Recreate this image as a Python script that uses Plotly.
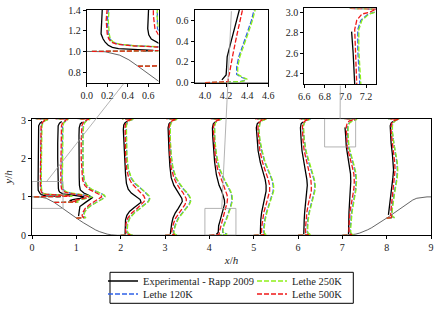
import plotly.graph_objects as go

W, H = 441, 310
FONT = "Liberation Serif, serif"

STATIONS = [0.05, 0.5, 1, 2, 3, 4, 5, 6, 7, 8]

# hill geometry (x/h, y/h)
HILL_X = [0, 0.09, 0.179, 0.321, 0.411, 0.5, 0.607, 0.714, 0.804, 0.893, 0.982, 1.071, 1.161, 1.25, 1.339,
          1.429, 1.518, 1.607, 1.696, 1.786, 1.929, 7.071, 7.214, 7.304, 7.393, 7.482, 7.571, 7.661, 7.75,
          7.839, 7.929, 8.018, 8.107, 8.196, 8.286, 8.393, 8.5, 8.589, 8.679, 8.821, 8.91, 9.0]
HILL_Y = [1.0, 1.0, 0.997, 0.964, 0.919, 0.857, 0.770, 0.679, 0.604, 0.532, 0.462, 0.393, 0.325, 0.259, 0.197,
          0.143, 0.097, 0.059, 0.031, 0.012, 0.0, 0.0, 0.012, 0.031, 0.059, 0.097, 0.143, 0.197, 0.259,
          0.325, 0.393, 0.462, 0.532, 0.604, 0.679, 0.770, 0.857, 0.919, 0.964, 0.997, 1.0, 1.0]

# y levels of the simulation profiles
Y_S005 = [1.0, 1.003, 1.008, 1.015, 1.025, 1.035, 1.045, 1.055, 1.07, 1.09, 1.12, 1.17, 1.3, 1.6, 2.0, 2.4, 2.7, 2.85, 2.93, 2.98, 3.005, 3.02, 3.03, 3.035]
Y_S05 = [0.857, 0.86, 0.865, 0.875, 0.89, 0.91, 0.94, 0.97, 1.0, 1.03, 1.06, 1.09, 1.12, 1.16, 1.22, 1.35, 1.6, 2.0, 2.4, 2.7, 2.85, 2.93, 2.98, 3.005, 3.02, 3.03, 3.035]
Y_S1 = [0.448, 0.452, 0.46, 0.48, 0.52, 0.6, 0.7, 0.8, 0.88, 0.95, 1.0, 1.04, 1.08, 1.13, 1.2, 1.3, 1.45, 1.7, 2.0, 2.4, 2.7, 2.85, 2.93, 2.98, 3.005, 3.02, 3.03, 3.035]
Y_S23 = [0.0, 0.004, 0.012, 0.03, 0.07, 0.15, 0.3, 0.45, 0.58, 0.7, 0.8, 0.88, 0.95, 1.03, 1.12, 1.22, 1.35, 1.5, 1.75, 2.1, 2.5, 2.75, 2.85, 2.93, 2.98, 3.005, 3.02, 3.03, 3.035]
Y_S4 = [0.0, 0.004, 0.01, 0.02, 0.035, 0.05, 0.08, 0.15, 0.25, 0.45, 0.6, 0.72, 0.85, 0.95, 1.05, 1.15, 1.3, 1.5, 1.75, 2.1, 2.5, 2.75, 2.85, 2.93, 2.98, 3.005, 3.02, 3.03, 3.035]
Y_S56 = [0.0, 0.004, 0.012, 0.03, 0.07, 0.2, 0.4, 0.6, 0.8, 1.0, 1.15, 1.3, 1.45, 1.65, 1.9, 2.2, 2.5, 2.75, 2.85, 2.93, 2.98, 3.005, 3.02, 3.03, 3.035]
Y_S7 = [0.0, 0.004, 0.012, 0.03, 0.07, 0.2, 0.4, 0.6, 0.8, 1.0, 1.2, 1.4, 1.6, 1.8, 2.0, 2.3, 2.63, 2.83, 2.92, 2.98, 3.0, 3.02, 3.03, 3.035]
Y_S8 = [0.448, 0.452, 0.46, 0.48, 0.55, 0.7, 0.9, 1.1, 1.3, 1.5, 1.7, 1.9, 2.1, 2.4, 2.7, 2.85, 2.93, 2.98, 3.005, 3.02, 3.03, 3.035]
SIM_Y = [Y_S005, Y_S05, Y_S1, Y_S23, Y_S23, Y_S4, Y_S56, Y_S56, Y_S7, Y_S8]

# Lethe 120K profile values (offset from station)
L120 = [
    [0.0, 0.58, 0.76, 0.84, 0.82, 0.78, 0.64, 0.41, 0.26, 0.2, 0.175, 0.16, 0.152, 0.15, 0.15, 0.15, 0.155, 0.165, 0.19, 0.23, 0.28, 0.31, 0.29, 0.03],
    [0.0, 0.38, 0.53, 0.5, 0.45, 0.48, 0.64, 0.78, 0.84, 0.76, 0.56, 0.39, 0.29, 0.23, 0.19, 0.177, 0.177, 0.177, 0.177, 0.182, 0.19, 0.21, 0.25, 0.29, 0.31, 0.29, 0.03],
    [0.0, 0.19, 0.21, 0.17, 0.16, 0.18, 0.24, 0.36, 0.49, 0.59, 0.64, 0.63, 0.57, 0.46, 0.33, 0.23, 0.17, 0.148, 0.143, 0.143, 0.148, 0.158, 0.18, 0.22, 0.27, 0.3, 0.28, 0.03],
    [0.0, 0.24, 0.26, 0.19, 0.15, 0.14, 0.15, 0.2, 0.3, 0.43, 0.55, 0.62, 0.65, 0.63, 0.55, 0.44, 0.32, 0.23, 0.165, 0.135, 0.125, 0.12, 0.125, 0.145, 0.185, 0.235, 0.275, 0.265, 0.03],
    [0.0, 0.27, 0.27, 0.21, 0.19, 0.2, 0.24, 0.3, 0.38, 0.47, 0.54, 0.57, 0.57, 0.54, 0.48, 0.4, 0.32, 0.24, 0.175, 0.135, 0.115, 0.11, 0.115, 0.135, 0.175, 0.225, 0.265, 0.255, 0.03],
    [0.0, 0.29, 0.33, 0.37, 0.39, 0.35, 0.3, 0.3, 0.32, 0.39, 0.44, 0.47, 0.5, 0.51, 0.5, 0.47, 0.4, 0.31, 0.22, 0.155, 0.12, 0.11, 0.115, 0.135, 0.175, 0.225, 0.265, 0.255, 0.03],
    [0.0, 0.27, 0.29, 0.25, 0.23, 0.23, 0.25, 0.29, 0.35, 0.41, 0.44, 0.44, 0.41, 0.34, 0.25, 0.18, 0.135, 0.115, 0.12, 0.14, 0.175, 0.225, 0.265, 0.255, 0.03],
    [0.0, 0.27, 0.29, 0.25, 0.21, 0.21, 0.22, 0.25, 0.29, 0.34, 0.37, 0.38, 0.36, 0.31, 0.24, 0.175, 0.135, 0.115, 0.12, 0.14, 0.175, 0.225, 0.265, 0.255, 0.03],
    [0.0, 0.24, 0.26, 0.21, 0.18, 0.18, 0.19, 0.21, 0.24, 0.27, 0.3, 0.31, 0.3, 0.26, 0.21, 0.14, 0.12, 0.12, 0.15, 0.22, 0.29, 0.31, 0.3, 0.04],
    [0.0, 0.15, 0.17, 0.13, 0.11, 0.12, 0.14, 0.17, 0.2, 0.23, 0.24, 0.23, 0.2, 0.155, 0.125, 0.125, 0.145, 0.185, 0.235, 0.275, 0.265, 0.03],
]

# Lethe 250K
L250 = [
    [0.0, 0.6, 0.78, 0.86, 0.84, 0.8, 0.66, 0.42, 0.27, 0.21, 0.18, 0.17, 0.16, 0.16, 0.16, 0.16, 0.165, 0.175, 0.2, 0.24, 0.29, 0.32, 0.3, 0.03],
    [0.0, 0.4, 0.55, 0.52, 0.47, 0.5, 0.66, 0.8, 0.86, 0.78, 0.58, 0.4, 0.3, 0.24, 0.2, 0.185, 0.185, 0.185, 0.185, 0.19, 0.2, 0.22, 0.26, 0.3, 0.32, 0.3, 0.03],
    [0.0, 0.2, 0.22, 0.18, 0.17, 0.19, 0.25, 0.37, 0.5, 0.6, 0.65, 0.64, 0.58, 0.47, 0.34, 0.24, 0.18, 0.155, 0.15, 0.15, 0.155, 0.165, 0.19, 0.23, 0.28, 0.31, 0.29, 0.03],
    [0.0, 0.25, 0.27, 0.2, 0.16, 0.15, 0.16, 0.21, 0.31, 0.44, 0.56, 0.63, 0.66, 0.64, 0.56, 0.45, 0.33, 0.24, 0.17, 0.14, 0.13, 0.125, 0.13, 0.15, 0.19, 0.24, 0.28, 0.27, 0.03],
    [0.0, 0.28, 0.28, 0.22, 0.2, 0.21, 0.25, 0.31, 0.39, 0.48, 0.55, 0.58, 0.58, 0.55, 0.49, 0.41, 0.33, 0.25, 0.18, 0.14, 0.12, 0.115, 0.12, 0.14, 0.18, 0.23, 0.27, 0.26, 0.03],
    [0.0, 0.3, 0.34, 0.38, 0.4, 0.36, 0.31, 0.31, 0.33, 0.4, 0.45, 0.48, 0.51, 0.52, 0.51, 0.48, 0.41, 0.32, 0.23, 0.16, 0.125, 0.115, 0.12, 0.14, 0.18, 0.23, 0.27, 0.26, 0.03],
    [0.0, 0.28, 0.3, 0.26, 0.24, 0.24, 0.26, 0.3, 0.36, 0.42, 0.45, 0.45, 0.42, 0.35, 0.26, 0.19, 0.14, 0.12, 0.125, 0.145, 0.18, 0.23, 0.27, 0.26, 0.03],
    [0.0, 0.28, 0.3, 0.26, 0.22, 0.22, 0.23, 0.26, 0.3, 0.35, 0.38, 0.39, 0.37, 0.32, 0.25, 0.18, 0.14, 0.12, 0.125, 0.145, 0.18, 0.23, 0.27, 0.26, 0.03],
    [0.0, 0.25, 0.27, 0.22, 0.19, 0.19, 0.2, 0.22, 0.25, 0.28, 0.31, 0.32, 0.31, 0.27, 0.22, 0.15, 0.13, 0.13, 0.16, 0.23, 0.3, 0.32, 0.31, 0.04],
    [0.0, 0.16, 0.18, 0.14, 0.12, 0.13, 0.15, 0.18, 0.21, 0.24, 0.25, 0.24, 0.21, 0.16, 0.13, 0.13, 0.15, 0.19, 0.24, 0.28, 0.27, 0.03],
]

# Lethe 500K
L500 = [
    [0.0, 0.55, 0.72, 0.8, 0.78, 0.75, 0.6, 0.38, 0.24, 0.19, 0.165, 0.15, 0.14, 0.14, 0.14, 0.14, 0.145, 0.155, 0.18, 0.22, 0.27, 0.3, 0.28, 0.03],
    [0.0, 0.35, 0.5, 0.48, 0.42, 0.45, 0.6, 0.72, 0.78, 0.7, 0.5, 0.34, 0.25, 0.2, 0.165, 0.15, 0.15, 0.15, 0.15, 0.155, 0.165, 0.19, 0.23, 0.27, 0.3, 0.28, 0.03],
    [0.0, 0.15, 0.17, 0.14, 0.13, 0.15, 0.2, 0.3, 0.42, 0.52, 0.57, 0.56, 0.5, 0.4, 0.28, 0.19, 0.14, 0.12, 0.11, 0.11, 0.115, 0.125, 0.15, 0.19, 0.24, 0.28, 0.26, 0.03],
    [0.0, 0.2, 0.22, 0.16, 0.12, 0.11, 0.12, 0.16, 0.25, 0.37, 0.47, 0.53, 0.55, 0.52, 0.44, 0.35, 0.25, 0.18, 0.13, 0.11, 0.1, 0.095, 0.1, 0.12, 0.16, 0.21, 0.25, 0.24, 0.03],
    [0.0, 0.22, 0.22, 0.17, 0.15, 0.16, 0.19, 0.24, 0.31, 0.39, 0.45, 0.48, 0.48, 0.45, 0.4, 0.33, 0.26, 0.2, 0.14, 0.11, 0.095, 0.09, 0.095, 0.12, 0.16, 0.21, 0.25, 0.24, 0.03],
    [0.0, 0.22, 0.22, 0.22, 0.22, 0.22, 0.23, 0.24, 0.26, 0.3, 0.34, 0.37, 0.4, 0.41, 0.4, 0.37, 0.32, 0.25, 0.18, 0.13, 0.1, 0.09, 0.095, 0.12, 0.16, 0.21, 0.25, 0.24, 0.03],
    [0.0, 0.22, 0.24, 0.2, 0.18, 0.18, 0.2, 0.23, 0.28, 0.33, 0.36, 0.36, 0.33, 0.27, 0.2, 0.14, 0.11, 0.095, 0.1, 0.12, 0.16, 0.21, 0.25, 0.24, 0.03],
    [0.0, 0.22, 0.24, 0.2, 0.17, 0.17, 0.18, 0.2, 0.23, 0.27, 0.3, 0.3, 0.29, 0.25, 0.2, 0.14, 0.11, 0.095, 0.1, 0.12, 0.16, 0.21, 0.25, 0.24, 0.03],
    [0.0, 0.2, 0.22, 0.18, 0.15, 0.15, 0.16, 0.17, 0.2, 0.23, 0.26, 0.27, 0.26, 0.22, 0.17, 0.11, 0.095, 0.09, 0.11, 0.16, 0.24, 0.28, 0.3, 0.04],
    [0.0, 0.12, 0.14, 0.11, 0.09, 0.1, 0.12, 0.14, 0.16, 0.18, 0.19, 0.18, 0.16, 0.12, 0.1, 0.1, 0.12, 0.16, 0.21, 0.25, 0.24, 0.03],
]

# Experimental - Rapp 2009
EXP_Y = [
    [1.004, 1.01, 1.018, 1.028, 1.04, 1.06, 1.09, 1.12, 1.17, 1.3, 1.6, 2.0, 2.4, 2.7, 2.85, 2.92, 2.96],
    [0.87, 0.88, 0.9, 0.93, 0.96, 1.0, 1.04, 1.08, 1.12, 1.16, 1.22, 1.35, 1.6, 2.0, 2.4, 2.7, 2.85, 2.92, 2.96],
    [0.5, 0.6, 0.68, 0.75, 0.85, 0.93, 0.98, 1.04, 1.1, 1.18, 1.3, 1.5, 1.8, 2.2, 2.6, 2.8, 2.9, 2.95],
    [0.03, 0.1, 0.25, 0.4, 0.52, 0.62, 0.72, 0.8, 0.86, 0.93, 1.0, 1.1, 1.2, 1.35, 1.6, 2.0, 2.4, 2.75, 2.87, 2.93, 2.97],
    [0.03, 0.15, 0.3, 0.45, 0.58, 0.7, 0.8, 0.88, 0.96, 1.05, 1.15, 1.3, 1.5, 1.8, 2.2, 2.6, 2.8, 2.9, 2.95],
    [0.027, 0.075, 0.15, 0.25, 0.35, 0.48, 0.6, 0.7, 0.82, 0.92, 1.02, 1.15, 1.3, 1.57, 1.9, 2.26, 2.6, 2.8, 2.9, 2.95],
    [0.03, 0.2, 0.4, 0.6, 0.8, 1.0, 1.15, 1.3, 1.45, 1.65, 1.9, 2.2, 2.5, 2.8, 2.9, 2.95],
    [0.03, 0.2, 0.4, 0.6, 0.8, 1.0, 1.15, 1.3, 1.45, 1.65, 1.9, 2.2, 2.5, 2.8, 2.9, 2.95],
    [0.03, 0.2, 0.4, 0.6, 0.8, 1.0, 1.2, 1.4, 1.6, 1.8, 2.0, 2.3, 2.6, 2.81],
    [0.53, 0.7, 0.9, 1.1, 1.3, 1.5, 1.7, 1.9, 2.1, 2.4, 2.7, 2.85, 2.92, 2.96],
]
EXP_V = [
    [0.5, 0.6, 0.45, 0.26, 0.2, 0.16, 0.13, 0.11, 0.09, 0.087, 0.087, 0.087, 0.088, 0.09, 0.1, 0.13, 0.18],
    [0.35, 0.4, 0.35, 0.42, 0.58, 0.68, 0.45, 0.2, 0.13, 0.105, 0.095, 0.09, 0.085, 0.08, 0.08, 0.08, 0.09, 0.12, 0.17],
    [0.05, 0.06, 0.07, 0.08, 0.2, 0.3, 0.36, 0.28, 0.17, 0.09, 0.07, 0.065, 0.06, 0.06, 0.06, 0.065, 0.09, 0.14],
    [0.1, 0.1, 0.1, 0.11, 0.14, 0.2, 0.3, 0.4, 0.46, 0.44, 0.35, 0.24, 0.17, 0.13, 0.11, 0.09, 0.075, 0.06, 0.07, 0.1, 0.15],
    [0.12, 0.13, 0.15, 0.18, 0.23, 0.3, 0.36, 0.39, 0.38, 0.33, 0.27, 0.2, 0.14, 0.11, 0.09, 0.075, 0.07, 0.09, 0.13],
    [0.16, 0.2, 0.205, 0.21, 0.235, 0.27, 0.3, 0.325, 0.345, 0.34, 0.32, 0.28, 0.22, 0.16, 0.12, 0.09, 0.075, 0.07, 0.09, 0.13],
    [0.15, 0.15, 0.16, 0.18, 0.22, 0.26, 0.28, 0.28, 0.26, 0.21, 0.15, 0.1, 0.075, 0.06, 0.08, 0.12],
    [0.13, 0.13, 0.14, 0.15, 0.17, 0.19, 0.21, 0.21, 0.2, 0.17, 0.13, 0.09, 0.07, 0.055, 0.07, 0.11],
    [0.14, 0.14, 0.145, 0.15, 0.16, 0.175, 0.185, 0.19, 0.185, 0.16, 0.13, 0.09, 0.075, 0.06],
    [0.04, 0.06, 0.08, 0.1, 0.12, 0.14, 0.155, 0.15, 0.13, 0.1, 0.08, 0.08, 0.1, 0.14],
]

for a, b in zip(SIM_Y, L120):
    assert len(a) == len(b)
for a, b in zip(SIM_Y, L250):
    assert len(a) == len(b)
for a, b in zip(SIM_Y, L500):
    assert len(a) == len(b)
for a, b in zip(EXP_Y, EXP_V):
    assert len(a) == len(b)

# axes layout (pixels -> paper)
def px(v):
    return v / W

def py(v):
    return (H - v) / H

AXES = {
    "main": dict(x=[px(32), px(431)], y=[py(235.3), py(118.7)], xr=[0, 9], yr=[0, 3.035]),
    "in1": dict(x=[px(86.7), px(158.5)], y=[py(82.5), py(10)], xr=[0, 0.7], yr=[0.7, 1.4001]),
    "in2": dict(x=[px(194.5), px(268.3)], y=[py(82.7), py(10)], xr=[3.9, 4.6001], yr=[0, 0.7]),
    "in3": dict(x=[px(304.3), px(376.3)], y=[py(84.3), py(8.4)], xr=[6.6, 7.3], yr=[2.3, 3.035]),
}
REFS = [("main", "x", "y"), ("in1", "x2", "y2"), ("in2", "x3", "y3"), ("in3", "x4", "y4")]


def build(ylists, vlists):
    xs, ys = [], []
    for st, yl, vl in zip(STATIONS, ylists, vlists):
        xs += [st + v for v in vl] + [None]
        ys += list(yl) + [None]
    return xs, ys


SERIES = [
    ("Experimental - Rapp 2009", EXP_Y, EXP_V, "#000000", "solid", "legend"),
    ("Lethe 120K", SIM_Y, L120, "#2f62e8", "5px,2px", "legend2"),
    ("Lethe 250K", SIM_Y, L250, "#8ef01a", "5px,2px", "legend"),
    ("Lethe 500K", SIM_Y, L500, "#f01818", "5px,2px", "legend2"),
]

fig = go.Figure()
for key, xa, ya in REFS:
    fig.add_trace(go.Scatter(x=HILL_X, y=HILL_Y, mode="lines", line=dict(color="#222222", width=0.7),
                             showlegend=False, hoverinfo="skip", xaxis=xa, yaxis=ya))
    for name, yl, vl, col, dash, leg in SERIES:
        xs, ys = build(yl, vl)
        fig.add_trace(go.Scatter(x=xs, y=ys, mode="lines", name=name,
                                 line=dict(color=col, width=1.3, dash=dash),
                                 showlegend=(key == "main"), legend=leg,
                                 xaxis=xa, yaxis=ya))

tickfont = dict(family=FONT, size=10, color="#222222")
common = dict(showline=True, linecolor="black", linewidth=1, mirror=True, ticks="outside",
              ticklen=3, tickwidth=0.8, tickcolor="black", showgrid=False, zeroline=False,
              tickfont=tickfont, automargin=False)

layout_axes = {}
for key, xa, ya in REFS:
    a = AXES[key]
    xname = "xaxis" if xa == "x" else "xaxis" + xa[1:]
    yname = "yaxis" if ya == "y" else "yaxis" + ya[1:]
    layout_axes[xname] = dict(domain=a["x"], range=a["xr"], anchor=ya, **common)
    layout_axes[yname] = dict(domain=a["y"], range=a["yr"], anchor=xa, **common)

layout_axes["xaxis"].update(tickvals=[0, 1, 2, 3, 4, 5, 6, 7, 8, 9],
                            title=dict(text="<i>x</i>/<i>h</i>", font=dict(family=FONT, size=11, color="#222"), standoff=4))
layout_axes["yaxis"].update(tickvals=[0, 1, 2, 3],
                            title=dict(text="<i>y</i>/<i>h</i>", font=dict(family=FONT, size=11, color="#222"), standoff=6))
layout_axes["xaxis2"].update(tickvals=[0, 0.2, 0.4, 0.6], tickformat=".1f")
layout_axes["yaxis2"].update(tickvals=[0.8, 1.0, 1.2, 1.4], tickformat=".1f")
layout_axes["xaxis3"].update(tickvals=[4.0, 4.2, 4.4, 4.6], tickformat=".1f")
layout_axes["yaxis3"].update(tickvals=[0, 0.2, 0.4, 0.6], tickformat=".1f")
layout_axes["xaxis4"].update(tickvals=[6.6, 6.8, 7.0, 7.2], tickformat=".1f")
layout_axes["yaxis4"].update(tickvals=[2.4, 2.6, 2.8, 3.0], tickformat=".1f")


def to_paper(key, xv, yv):
    a = AXES[key]
    fx = (xv - a["xr"][0]) / (a["xr"][1] - a["xr"][0])
    fy = (yv - a["yr"][0]) / (a["yr"][1] - a["yr"][0])
    return a["x"][0] + fx * (a["x"][1] - a["x"][0]), a["y"][0] + fy * (a["y"][1] - a["y"][0])


GRAY = "#a0a0a0"
shapes = []
# zoom rectangles on the main axes
for key in ["in1", "in2", "in3"]:
    a = AXES[key]
    shapes.append(dict(type="rect", xref="x", yref="y", x0=a["xr"][0], x1=a["xr"][1],
                       y0=a["yr"][0], y1=a["yr"][1], line=dict(color=GRAY, width=0.8)))
# connector lines (main point -> inset point)
CONNECT = [((0.33, 1.4), "in1", (0.36, 0.688)),
           ((4.28, 0.7), "in2", (4.25, 0.688)),
           ((6.95, 3.035), "in3", (6.95, 2.288))]
for (mx, my), key, (ix, iy) in CONNECT:
    x0, y0 = to_paper("main", mx, my)
    x1, y1 = to_paper(key, ix, iy)
    shapes.append(dict(type="line", xref="paper", yref="paper", x0=x0, y0=y0, x1=x1, y1=y1,
                       line=dict(color=GRAY, width=0.8)))
# legend frame
shapes.append(dict(type="rect", xref="paper", yref="paper", x0=px(110), x1=px(353.3),
                   y0=py(303.3), y1=py(272.3), line=dict(color="black", width=1)))

legfont = dict(family=FONT, size=10.5, color="#222222")
fig.update_layout(
    template="none",
    width=W, height=H, margin=dict(l=0, r=0, t=0, b=0, autoexpand=False),
    paper_bgcolor="white", plot_bgcolor="white",
    font=dict(family=FONT, size=10, color="#222222"),
    shapes=shapes,
    legend=dict(orientation="h", x=px(103), y=py(281), xanchor="left", yanchor="middle",
                font=legfont, bgcolor="rgba(0,0,0,0)", entrywidth=104, entrywidthmode="pixels",
                itemwidth=30, borderwidth=0),
    legend2=dict(orientation="h", x=px(103), y=py(294), xanchor="left", yanchor="middle",
                 font=legfont, bgcolor="rgba(0,0,0,0)", entrywidth=104, entrywidthmode="pixels",
                 itemwidth=30, borderwidth=0),
    **layout_axes,
)

fig.write_html("out.html", config={"displayModeBar": False},
               post_script="document.body.style.margin='0';document.body.style.overflow='hidden';")
